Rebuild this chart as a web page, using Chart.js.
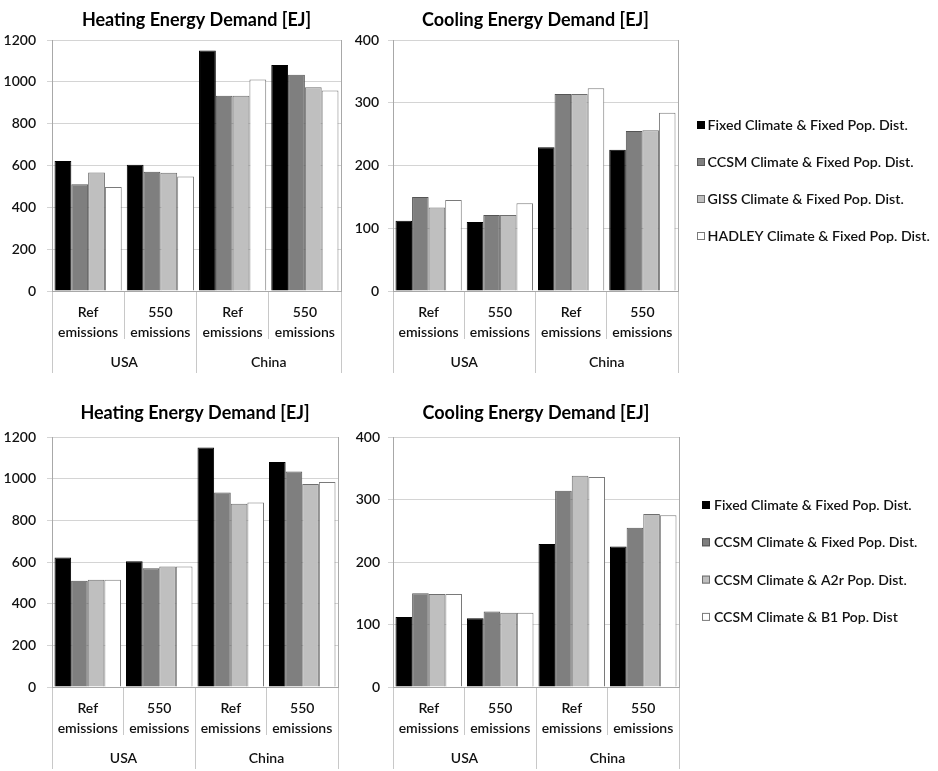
<!DOCTYPE html>
<html>
<head>
<meta charset="utf-8">
<script src="https://cdn.jsdelivr.net/npm/chart.js@4.4.1/dist/chart.umd.min.js"></script>
<style>
  html, body { margin: 0; padding: 0; background: #ffffff; }
  body { width: 938px; height: 771px; position: relative; overflow: hidden; }
  canvas { position: absolute; }
</style>
</head>
<body>
<canvas id="heatTop" width="345" height="373" style="left:0px;top:0px"></canvas>
<canvas id="coolTop" width="593" height="373" style="left:345px;top:0px"></canvas>
<canvas id="heatBot" width="345" height="373" style="left:0px;top:396px"></canvas>
<canvas id="coolBot" width="593" height="373" style="left:345px;top:396px"></canvas>
<script>
// ---------------- data ----------------
const regions = ['USA', 'China'];
const scenarioLabels = [['Ref', 'emissions'], ['550', 'emissions'], ['Ref', 'emissions'], ['550', 'emissions']];

const seriesTop = ['Fixed Climate & Fixed Pop. Dist.', 'CCSM Climate & Fixed Pop. Dist.', 'GISS Climate & Fixed Pop. Dist.', 'HADLEY Climate & Fixed Pop. Dist.'];
const seriesBottom = ['Fixed Climate & Fixed Pop. Dist.', 'CCSM Climate & Fixed Pop. Dist.', 'CCSM Climate & A2r Pop. Dist.', 'CCSM Climate & B1 Pop. Dist'];

// order of values: USA Ref, USA 550, China Ref, China 550
const heatTopFixed  = [622, 604, 1150, 1080];
const heatTopCCSM   = [510, 570, 934, 1034];
const heatTopGISS   = [567, 565, 934, 974];
const heatTopHadley = [497, 548, 1011, 958];

const coolTopFixed  = [112, 110, 229, 225];
const coolTopCCSM   = [150, 121, 314, 255];
const coolTopGISS   = [133, 121, 314, 256];
const coolTopHadley = [145, 140, 323, 284];

const heatBotFixed  = [622, 604, 1150, 1080];
const heatBotCCSM   = [510, 570, 934, 1034];
const heatBotA2r    = [515, 578, 880, 975];
const heatBotB1     = [515, 578, 886, 984];

const coolBotFixed  = [112, 110, 229, 225];
const coolBotCCSM   = [150, 121, 314, 255];
const coolBotA2r    = [149, 119, 338, 277];
const coolBotB1     = [149, 119, 336, 275];

const heatTicksMax = 1200, heatTicksStep = 200;
const coolTicksMax = 400, coolTicksStep = 100;

// ---------------- styles ----------------
const FONT = 'Lato, "Open Sans", sans-serif';
const fills = ['#000000', '#7f7f7f', '#bfbfbf', '#ffffff'];
const edges = ['#000000', '#555555', '#6e6e6e', '#7a7a7a'];
const gridColor = '#d4d4d4';
const axisColor = '#a8a8a8';
const sepColor = '#c8c8c8';
const textColor = '#111111';

const sideLegend = {
  id: 'sideLegend',
  afterDraw(chart, args, o) {
    if (!o || !o.display) return;
    const ctx = chart.ctx;
    ctx.save();
    ctx.font = o.font;
    ctx.textBaseline = 'middle';
    ctx.textAlign = 'left';
    chart.data.datasets.forEach((ds, i) => {
      const y = o.y0 + i * o.dy;
      ctx.fillStyle = ds.backgroundColor;
      ctx.fillRect(o.x, y - 4, 8, 8);
      ctx.lineWidth = 1;
      ctx.strokeStyle = ds.borderColor;
      ctx.strokeRect(o.x + 0.5, y - 3.5, 7, 7);
      ctx.fillStyle = textColor;
      ctx.fillText(ds.label, o.x + o.gap, y + 0.5);
    });
    ctx.restore();
  }
};

function makeChart(id, title, names, series, yMax, yStep, o) {
  return new Chart(document.getElementById(id), {
    type: 'bar',
    data: {
      labels: scenarioLabels,
      datasets: series.map((vals, i) => ({
        label: names[i],
        data: vals,
        backgroundColor: fills[i],
        borderColor: edges[i],
        borderWidth: 1,
        categoryPercentage: 0.93,
        barPercentage: 1.0
      }))
    },
    options: {
      responsive: false,
      animation: false,
      events: [],
      layout: { padding: { left: 0, right: o.padRight, top: 0, bottom: 0 } },
      plugins: {
        legend: { display: false },
        tooltip: { enabled: false },
        title: {
          display: true, text: title, fullSize: false, color: '#000000',
          font: { family: FONT, size: 18, weight: 'bold', lineHeight: 1.2 },
          padding: { top: o.titleTop, bottom: o.titleBottom }
        },
        sideLegend: o.legend
      },
      scales: {
        x: {
          type: 'category', position: 'bottom', weight: 1, offset: true,
          grid: { offset: true, drawOnChartArea: false, tickLength: 48, color: sepColor, tickColor: sepColor, tickWidth: 1 },
          border: { display: true, color: axisColor },
          ticks: { autoSkip: false, maxRotation: 0, minRotation: 0, padding: -37, color: textColor,
                   font: { family: FONT, size: 14, weight: 600, lineHeight: 1.43 } },
          afterFit: s => { s.height = 48; }
        },
        x2: {
          type: 'category', position: 'bottom', weight: 2, offset: true, labels: regions,
          grid: { offset: true, drawOnChartArea: false, tickLength: 34, color: sepColor, tickColor: sepColor },
          border: { display: false },
          ticks: { autoSkip: false, maxRotation: 0, padding: -21, color: textColor,
                   font: { family: FONT, size: 14, weight: 600, lineHeight: 1.43 } },
          afterFit: s => { s.height = 34; }
        },
        y: {
          min: 0, max: yMax,
          ticks: { stepSize: yStep, padding: o.yPad, color: textColor, format: { useGrouping: false },
                   font: { family: FONT, size: 14, weight: 600 } },
          grid: { color: gridColor, tickLength: 5, tickColor: gridColor },
          border: { color: axisColor },
          afterFit: s => { s.width = o.yWidth; }
        },
        y2: {
          position: 'right', min: 0, max: 1,
          ticks: { display: false },
          grid: { display: false, drawTicks: false },
          border: { display: true, color: axisColor },
          afterFit: s => { s.width = 0; }
        }
      }
    },
    plugins: [sideLegend]
  });
}

makeChart('heatTop', 'Heating Energy Demand [EJ]', seriesTop,
  [heatTopFixed, heatTopCCSM, heatTopGISS, heatTopHadley], heatTicksMax, heatTicksStep,
  { padRight: 4, titleTop: 9, titleBottom: 9.4, yPad: 11, yWidth: 52, legend: { display: false } });

makeChart('coolTop', 'Cooling Energy Demand [EJ]', seriesTop,
  [coolTopFixed, coolTopCCSM, coolTopGISS, coolTopHadley], coolTicksMax, coolTicksStep,
  { padRight: 260, titleTop: 9, titleBottom: 9.4, yPad: 9, yWidth: 48,
    legend: { display: true, x: 352, y0: 125, dy: 37, gap: 10.5, font: '600 14.2px ' + FONT } });

makeChart('heatBot', 'Heating Energy Demand [EJ]', seriesBottom,
  [heatBotFixed, heatBotCCSM, heatBotA2r, heatBotB1], heatTicksMax, heatTicksStep,
  { padRight: 7, titleTop: 6, titleBottom: 13.4, yPad: 11, yWidth: 52, legend: { display: false } });

makeChart('coolBot', 'Cooling Energy Demand [EJ]', seriesBottom,
  [coolBotFixed, coolBotCCSM, coolBotA2r, coolBotB1], coolTicksMax, coolTicksStep,
  { padRight: 259, titleTop: 6, titleBottom: 13.4, yPad: 8, yWidth: 48,
    legend: { display: true, x: 357, y0: 109, dy: 37.3, gap: 12, font: '600 14px ' + FONT } });
</script>
</body>
</html>
